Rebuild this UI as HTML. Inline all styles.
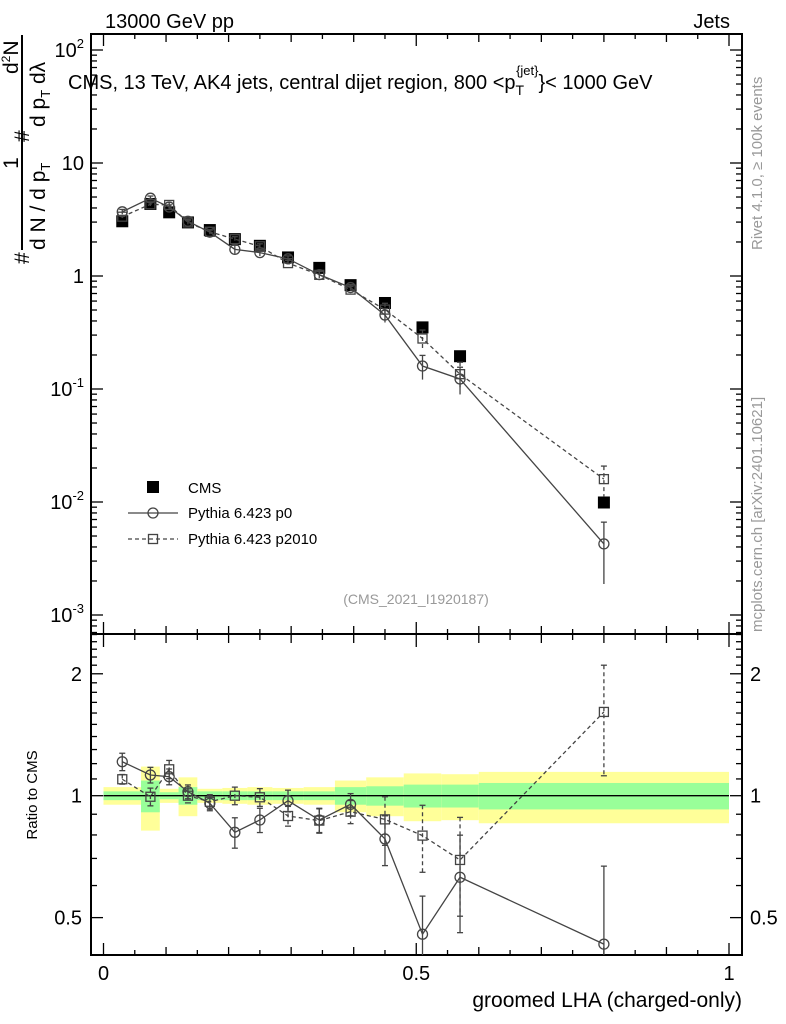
<!DOCTYPE html>
<html><head><meta charset="utf-8">
<style>
html,body{margin:0;padding:0;background:#fff;}
svg{display:block;font-family:"Liberation Sans",sans-serif;}
</style></head>
<body>
<svg id="chart" width="786" height="1024" viewBox="0 0 786 1024" xmlns="http://www.w3.org/2000/svg">
  <rect width="786" height="1024" fill="#fff"/>
  <g id="bands"></g>
  <g id="axes"></g>
  <g id="series"></g>
  <text x="105" y="28" font-size="20">13000 GeV pp</text>
  <text x="730" y="28" font-size="20" text-anchor="end">Jets</text>
  <text x="68" y="89" font-size="20">CMS, 13 TeV, AK4 jets, central dijet region, 800 &lt;p<tspan font-size="14" dy="6">T</tspan><tspan font-size="13" dx="-8" dy="-20">{jet}</tspan><tspan dy="14">}&lt; 1000 GeV</tspan></text>
  <g font-size="21">
    <line x1="22" y1="250" x2="22" y2="35" stroke="#000" stroke-width="2"/>
    <text transform="translate(29,264) rotate(-90)">#</text>
    <text transform="translate(18,163) rotate(-90)" text-anchor="middle">1</text>
    <text transform="translate(45,250) rotate(-90)">d N / d p<tspan font-size="13" dy="5">T</tspan></text>
    <text transform="translate(29,142) rotate(-90)">#</text>
    <text transform="translate(18,74) rotate(-90)">d<tspan font-size="12" dy="-8">2</tspan><tspan dy="8">N</tspan></text>
    <text transform="translate(45,127) rotate(-90)">d p<tspan font-size="13" dy="5">T</tspan><tspan dy="-5"> dλ</tspan></text>
  </g>
  <text transform="translate(762,250) rotate(-90)" font-size="15" fill="#999">Rivet 4.1.0, ≥ 100k events</text>
  <text transform="translate(762,632) rotate(-90)" font-size="15" fill="#999">mcplots.cern.ch [arXiv:2401.10621]</text>
  <text x="416" y="604" font-size="14" fill="#999" text-anchor="middle">(CMS_2021_I1920187)</text>
  <text transform="translate(37,795) rotate(-90)" font-size="15" text-anchor="middle">Ratio to CMS</text>
  <text x="742" y="1007" font-size="21" text-anchor="end">groomed LHA (charged-only)</text>
  <g font-size="15">
    <rect x="147" y="481" width="12" height="12" fill="#000"/>
    <text x="188" y="493">CMS</text>
    <line x1="128" y1="513" x2="178" y2="513" stroke="#444" stroke-width="1.3"/>
    <circle cx="153" cy="513" r="5" fill="none" stroke="#444" stroke-width="1.3"/>
    <text x="188" y="518">Pythia 6.423 p0</text>
    <line x1="128" y1="539" x2="178" y2="539" stroke="#444" stroke-width="1.3" stroke-dasharray="4,3"/>
    <rect x="148.5" y="534.5" width="9" height="9" fill="none" stroke="#444" stroke-width="1.3"/>
    <text x="188" y="544">Pythia 6.423 p2010</text>
  </g>
</svg>
<script>
const binEdges = [0,0.06,0.09,0.12,0.15,0.19,0.23,0.27,0.32,0.37,0.42,0.48,0.54,0.6,1.0];
const cmsValues = [3.05,4.34,3.66,2.98,2.55,2.12,1.85,1.46,1.18,0.83,0.577,0.351,0.195,0.0099];
const p0Ratio = [1.213,1.125,1.114,1.023,0.958,0.812,0.871,0.972,0.871,0.952,0.782,0.455,0.629,0.43];
const p0RatioErr = [0.06,0.05,0.05,0.04,0.04,0.07,0.06,0.06,0.06,0.06,0.11,0.11,0.17,0.24];
const p2010Ratio = [1.098,0.994,1.162,1.0,0.966,1.0,0.991,0.891,0.868,0.913,0.874,0.797,0.694,1.61];
const p2010RatioErr = [0.03,0.05,0.06,0.04,0.04,0.05,0.05,0.05,0.06,0.06,0.12,0.15,0.19,0.49];
const bandTotal = [0.05,0.18,0.04,0.11,0.04,0.045,0.05,0.045,0.05,0.09,0.11,0.135,0.13,0.145];
const bandStat = [0.025,0.09,0.02,0.05,0.025,0.025,0.025,0.025,0.025,0.05,0.055,0.065,0.065,0.075];
const ratioTickLabels = ["0.5","1","2"];
const mainTickLabels = ["10⁻³","10⁻²","10⁻¹","1","10","10²"];

const NS="http://www.w3.org/2000/svg";
const X0=91,X1=742,MT=34,MB=634,RB=955;
function xs(v){return 103.5+v*625.5;}
function ym(v){return 276-113*Math.log10(v);}
function yr(v){return 795.7-405*Math.log10(v);}
function mk(parent,tag,attrs){const e=document.createElementNS(NS,tag);for(const k in attrs)e.setAttribute(k,attrs[k]);parent.appendChild(e);return e;}
const axes=document.getElementById('axes'),bands=document.getElementById('bands'),series=document.getElementById('series');

for(let i=0;i<cmsValues.length;i++){
  const xa=xs(binEdges[i]),xb=xs(binEdges[i+1]);
  const y=mk(bands,'rect',{x:xa,y:yr(1+bandTotal[i]),width:xb-xa,height:yr(1-bandTotal[i])-yr(1+bandTotal[i]),fill:'#ffff99'});
  
  
  const g=mk(bands,'rect',{x:xa,y:yr(1+bandStat[i]),width:xb-xa,height:yr(1-bandStat[i])-yr(1+bandStat[i]),fill:'#99ff99'});
  
  
}
mk(bands,'line',{x1:xs(0),x2:xs(1),y1:yr(1),y2:yr(1),stroke:'#000','stroke-width':1.3});

mk(axes,'rect',{x:X0,y:MT,width:X1-X0,height:MB-MT,fill:'none',stroke:'#000','stroke-width':2});
mk(axes,'rect',{x:X0,y:MB,width:X1-X0,height:RB-MB,fill:'none',stroke:'#000','stroke-width':2});
for(let k=0;k<=20;k++){
  const v=k*0.05,x=xs(v);
  const L=(k%10===0)?12:(k%2===0?8:5);
  for(const [yb,dir] of [[MB,-1],[MT,1],[RB,-1],[MB+1,1]]){
    mk(axes,'line',{x1:x,x2:x,y1:yb,y2:yb+dir*L,stroke:'#000','stroke-width':1.3});
  }
}
["0","0.5","1"].forEach((t,i)=>{const e=mk(axes,'text',{x:xs(i*0.5),y:980,'font-size':20,'text-anchor':'middle'});e.textContent=t;

});
for(let d=-4;d<=2;d++){
  for(let m=1;m<=9;m++){
    const v=m*Math.pow(10,d),y=ym(v);
    if(y<MT||y>MB)continue;
    const L=m===1?12:6;
    mk(axes,'line',{x1:X0,x2:X0+L,y1:y,y2:y,stroke:'#000','stroke-width':1.3});
    mk(axes,'line',{x1:X1,x2:X1-L,y1:y,y2:y,stroke:'#000','stroke-width':1.3});
  }
}
mainTickLabels.forEach((t,i)=>{const d=i-3;const y=ym(Math.pow(10,d));
  const e=mk(axes,'text',{x:84,y:y+7,'font-size':20,'text-anchor':'end'});
  if(d===0)e.textContent='1';else if(d===1)e.textContent='10';
  else{e.textContent='10';const s=mk(e,'tspan',{'font-size':13,dy:-9});s.textContent=String(d);}
  
  
});
for(let k=3;k<=25;k++){
  const v=k/10,y=yr(v);
  if(y<MB||y>RB)continue;
  const L=(k===5||k===10||k===20)?12:6;
  mk(axes,'line',{x1:X0,x2:X0+L,y1:y,y2:y,stroke:'#000','stroke-width':1.3});
  mk(axes,'line',{x1:X1,x2:X1-L,y1:y,y2:y,stroke:'#000','stroke-width':1.3});
}
ratioTickLabels.forEach(t=>{const y=yr(parseFloat(t));
  const a=mk(axes,'text',{x:82,y:y+7,'font-size':20,'text-anchor':'end'});a.textContent=t;
  
  
  const b=mk(axes,'text',{x:750,y:y+7,'font-size':20});b.textContent=t;
  
  
});

const centers=cmsValues.map((_,i)=>(binEdges[i]+binEdges[i+1])/2);
function clampR(y){return Math.max(MB,Math.min(RB,y));}
function drawMC(vals,errs,ratio,rErr,dash,shape,name){
  const col='#444';
  const ptsM=centers.map((c,i)=>xs(c)+','+ym(vals[i])).join(' ');
  const pl=mk(series,'polyline',{points:ptsM,fill:'none',stroke:col,'stroke-width':1.3,'stroke-dasharray':dash});
  
  
  const ptsR=centers.map((c,i)=>xs(c)+','+clampR(yr(ratio[i]))).join(' ');
  const pr=mk(series,'polyline',{points:ptsR,fill:'none',stroke:col,'stroke-width':1.3,'stroke-dasharray':dash});
  
  
  centers.forEach((c,i)=>{
    const x=xs(c);
    const up=vals[i]+errs[i],dn=Math.max(vals[i]-errs[i],1e-4);
    mk(series,'line',{x1:x,x2:x,y1:ym(up),y2:Math.min(MB,ym(dn)),stroke:col,'stroke-width':1.3,'stroke-dasharray':dash});
    mk(series,'line',{x1:x-3,x2:x+3,y1:ym(up),y2:ym(up),stroke:col,'stroke-width':1.3});
    const ru=clampR(yr(ratio[i]+rErr[i])),rd=clampR(yr(Math.max(ratio[i]-rErr[i],0.1)));
    mk(series,'line',{x1:x,x2:x,y1:ru,y2:rd,stroke:col,'stroke-width':1.3,'stroke-dasharray':dash});
    mk(series,'line',{x1:x-3,x2:x+3,y1:ru,y2:ru,stroke:col,'stroke-width':1.3});
    if(rd<RB)mk(series,'line',{x1:x-3,x2:x+3,y1:rd,y2:rd,stroke:col,'stroke-width':1.3});
    for(const y of [ym(vals[i]),clampR(yr(ratio[i]))]){
      let m;
      if(shape==='circle')m=mk(series,'circle',{cx:x,cy:y,r:5,fill:'none',stroke:col,'stroke-width':1.3});
      else m=mk(series,'rect',{x:x-4.5,y:y-4.5,width:9,height:9,fill:'none',stroke:col,'stroke-width':1.3});
      
      
    }
  });
}
centers.forEach((c,i)=>{
  const r=mk(series,'rect',{x:xs(c)-6,y:ym(cmsValues[i])-6,width:12,height:12,fill:'#000'});
  
  
});
drawMC(cmsValues.map((v,i)=>v*p2010Ratio[i]),cmsValues.map((v,i)=>v*p2010RatioErr[i]),p2010Ratio,p2010RatioErr,'4,3','square','pythia-p2010');
drawMC(cmsValues.map((v,i)=>v*p0Ratio[i]),cmsValues.map((v,i)=>v*p0RatioErr[i]),p0Ratio,p0RatioErr,'none','circle','pythia-p0');
</script>
</body></html>
